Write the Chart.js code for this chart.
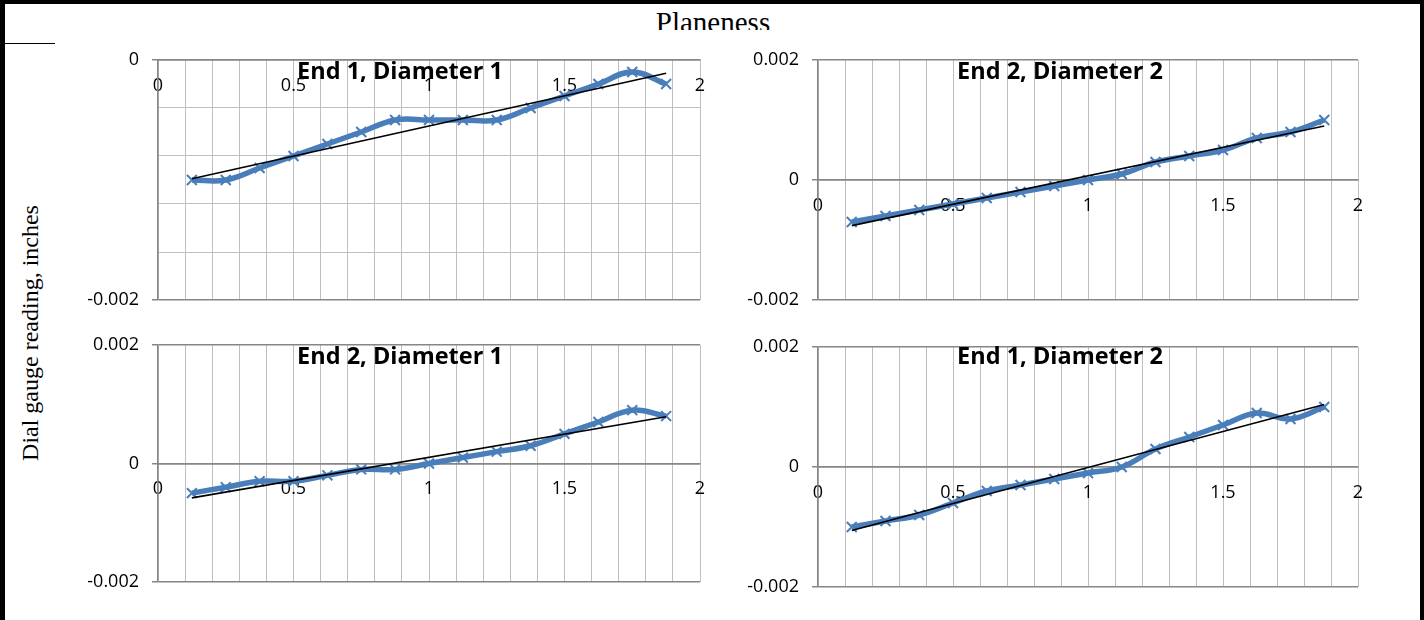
<!DOCTYPE html>
<html>
<head>
<meta charset="utf-8">
<script src="https://cdn.jsdelivr.net/npm/chart.js@4.4.1/dist/chart.umd.min.js"></script>
<style>
  html,body{margin:0;padding:0;background:#fff;}
  body{width:1424px;height:620px;position:relative;overflow:hidden;}
  .band{position:absolute;background:#000;}
  .cv{position:absolute;}
  .ttl{position:absolute;font-family:'Open Sans',sans-serif;font-weight:700;font-size:23.5px;line-height:24px;white-space:nowrap;transform:translate(-50%,-50%);color:#000;}
  #mainTitleClip{position:absolute;left:0;top:0;width:1424px;height:30px;overflow:hidden;}
  #mainTitle{position:absolute;left:713px;top:8px;transform:translateX(-50%);font-family:'Liberation Serif','Times New Roman',serif;font-size:29px;line-height:29px;white-space:nowrap;color:#000;}
  #yTitle{position:absolute;left:30px;top:333px;transform:translate(-50%,-50%) rotate(-90deg);font-family:'Liberation Serif','Times New Roman',serif;font-size:24px;line-height:24px;white-space:nowrap;color:#000;}
</style>
</head>
<body>
<div id="mainTitleClip"><div id="mainTitle">Planeness</div></div>
<div id="yTitle">Dial gauge reading, inches</div>

<script>
// ---------- DATA ----------
const positions = [0.125, 0.25, 0.375, 0.5, 0.625, 0.75, 0.875, 1, 1.125, 1.25, 1.375, 1.5, 1.625, 1.75, 1.875];
const end1Dia1 = [-0.0010, -0.0010, -0.0009, -0.0008, -0.0007, -0.0006, -0.0005, -0.0005, -0.0005, -0.0005, -0.0004, -0.0003, -0.0002, -0.0001, -0.0002];
const end2Dia2 = [-0.0007, -0.0006, -0.0005, -0.0004, -0.0003, -0.0002, -0.0001, 0, 0.0001, 0.0003, 0.0004, 0.0005, 0.0007, 0.0008, 0.0010];
const end2Dia1 = [-0.0005, -0.0004, -0.0003, -0.0003, -0.0002, -0.0001, -0.0001, 0, 0.0001, 0.0002, 0.0003, 0.0005, 0.0007, 0.0009, 0.0008];
const end1Dia2 = [-0.0010, -0.0009, -0.0008, -0.0006, -0.0004, -0.0003, -0.0002, -0.0001, 0, 0.0003, 0.0005, 0.0007, 0.0009, 0.0008, 0.0010];
// linear trend line end values (at first and last position)
const trendEnd1Dia1 = [-0.00099, -0.00011];
const trendEnd2Dia2 = [-0.00076, 0.00090];
const trendEnd2Dia1 = [-0.00058, 0.00079];
const trendEnd1Dia2 = [-0.00106, 0.00104];
const xTickLabels = ['0', '0.5', '1', '1.5', '2'];
const yTickLabelsTL = ['0', '-0.002'];
const yTickLabels = ['0.002', '0', '-0.002'];
const panelTitles = ['End 1, Diameter 1', 'End 2, Diameter 2', 'End 2, Diameter 1', 'End 1, Diameter 2'];

// ---------- LAYOUT ----------
const panels = [
  {title: panelTitles[0], values: end1Dia1, trend: trendEnd1Dia1, yMin: -0.002, yMax: 0, yStep: 0.0004, yLabels: yTickLabelsTL,
   plot: {l: 158, t: 60, r: 700, b: 300}, titlePos: {x: 400, y: 70}},
  {title: panelTitles[1], values: end2Dia2, trend: trendEnd2Dia2, yMin: -0.002, yMax: 0.002, yStep: 0.002, yLabels: yTickLabels,
   plot: {l: 818, t: 60, r: 1358, b: 300}, titlePos: {x: 1060, y: 70}},
  {title: panelTitles[2], values: end2Dia1, trend: trendEnd2Dia1, yMin: -0.002, yMax: 0.002, yStep: 0.002, yLabels: yTickLabels,
   plot: {l: 158, t: 345, r: 700, b: 582}, titlePos: {x: 400, y: 355}},
  {title: panelTitles[3], values: end1Dia2, trend: trendEnd1Dia2, yMin: -0.002, yMax: 0.002, yStep: 0.002, yLabels: yTickLabels,
   plot: {l: 818, t: 347, r: 1358, b: 587}, titlePos: {x: 1060, y: 355}}
];

const AXIS_W = 110, PAD = 34;
const BLUE = '#4a7ebb';
const DARK = '#868686';
const LIGHT = '#bfbfbf';
const tickFont = {family: "'Open Sans', sans-serif", size: 18};

function fmt(v){ return Math.abs(v) < 1e-12 ? '0' : String(+v.toPrecision(6)); }
function near(a, b){ return Math.abs(a - b) < 1e-9; }

panels.forEach((p, i) => {
  const w = (p.plot.r - p.plot.l) + AXIS_W + PAD;
  const h = (p.plot.b - p.plot.t) + 2 * PAD;
  const cv = document.createElement('canvas');
  cv.className = 'cv';
  cv.width = w; cv.height = h;
  let left0 = p.plot.l - AXIS_W, top0 = p.plot.t - PAD;
  cv.style.left = left0 + 'px';
  cv.style.top = top0 + 'px';
  cv.style.width = w + 'px'; cv.style.height = h + 'px';
  document.body.appendChild(cv);

  const isLabeledY = v => p.yLabels.some(s => near(parseFloat(s), v));
  const isLabeledX = v => xTickLabels.some(s => near(parseFloat(s), v));

  const chart = new Chart(cv.getContext('2d'), {
    type: 'line',
    data: {
      datasets: [
        {
          label: 'Trend',
          data: [{x: positions[0], y: p.trend[0]}, {x: positions[positions.length - 1], y: p.trend[1]}],
          borderColor: '#000', borderWidth: 1.6, pointRadius: 0, tension: 0, fill: false
        },
        {
          label: p.title,
          data: positions.map((x, k) => ({x: x, y: p.values[k]})),
          borderColor: BLUE, borderWidth: 5.5, tension: 0.4, fill: false,
          pointStyle: 'crossRot', pointRadius: 7, pointBorderWidth: 2,
          pointBorderColor: BLUE, pointBackgroundColor: BLUE
        }
      ]
    },
    options: {
      responsive: false, maintainAspectRatio: false, animation: false,
      layout: {padding: {left: 0, top: PAD, right: PAD, bottom: PAD}},
      plugins: {legend: {display: false}, tooltip: {enabled: false}, title: {display: false}},
      scales: {
        x: {
          type: 'linear', min: 0, max: 2,
          position: {y: 0},
          afterFit: s => { s.height = 0; },
          ticks: {
            stepSize: 0.1, autoSkip: false, maxRotation: 0, minRotation: 0,
            font: tickFont, color: '#000', padding: 15,
            callback: v => isLabeledX(v) ? fmt(v) : ''
          },
          grid: {
            drawTicks: false,
            color: c => (c.tick && near(c.tick.value, 0)) ? DARK : LIGHT,
            lineWidth: c => (c.tick && near(c.tick.value, 0)) ? 1.5 : 1
          },
          border: {display: true, color: DARK, width: 1.5}
        },
        y: {
          type: 'linear', min: p.yMin, max: p.yMax,
          afterFit: s => { s.width = AXIS_W; },
          ticks: {
            stepSize: p.yStep, autoSkip: false,
            font: tickFont, color: '#000', padding: 13,
            callback: v => isLabeledY(v) ? fmt(v) : ''
          },
          grid: {
            drawTicks: true, tickLength: 6,
            color: c => (c.tick && isLabeledY(c.tick.value)) ? DARK : LIGHT,
            tickColor: c => (c.tick && isLabeledY(c.tick.value)) ? DARK : 'rgba(0,0,0,0)',
            lineWidth: c => (c.tick && isLabeledY(c.tick.value)) ? 1.5 : 1
          },
          border: {display: true, color: DARK, width: 1.5}
        }
      }
    }
  });

  // align the chart area onto the intended plot rectangle
  const ca = chart.chartArea;
  const extraH = (p.plot.b - p.plot.t) - (ca.bottom - ca.top);
  const extraW = (p.plot.r - p.plot.l) - (ca.right - ca.left);
  if (Math.abs(extraH) > 0.5 || Math.abs(extraW) > 0.5) {
    const nw = w + Math.round(extraW), nh = h + Math.round(extraH);
    chart.resize(nw, nh);
    cv.style.width = nw + 'px'; cv.style.height = nh + 'px';
  }
  const ca2 = chart.chartArea;
  cv.style.left = (p.plot.l - ca2.left) + 'px';
  cv.style.top = (p.plot.t - ca2.top) + 'px';

  const t = document.createElement('div');
  t.className = 'ttl';
  t.textContent = p.title;
  t.style.left = p.titlePos.x + 'px';
  t.style.top = p.titlePos.y + 'px';
  document.body.appendChild(t);
});

// frame decorations
[
  {l: 0, t: 0, w: 1424, h: 4},
  {l: 0, t: 0, w: 5, h: 620},
  {l: 1420, t: 0, w: 4, h: 620},
  {l: 5, t: 43, w: 50, h: 1}
].forEach(b => {
  const d = document.createElement('div');
  d.className = 'band';
  d.style.left = b.l + 'px'; d.style.top = b.t + 'px';
  d.style.width = b.w + 'px'; d.style.height = b.h + 'px';
  document.body.appendChild(d);
});
</script>
</body>
</html>
